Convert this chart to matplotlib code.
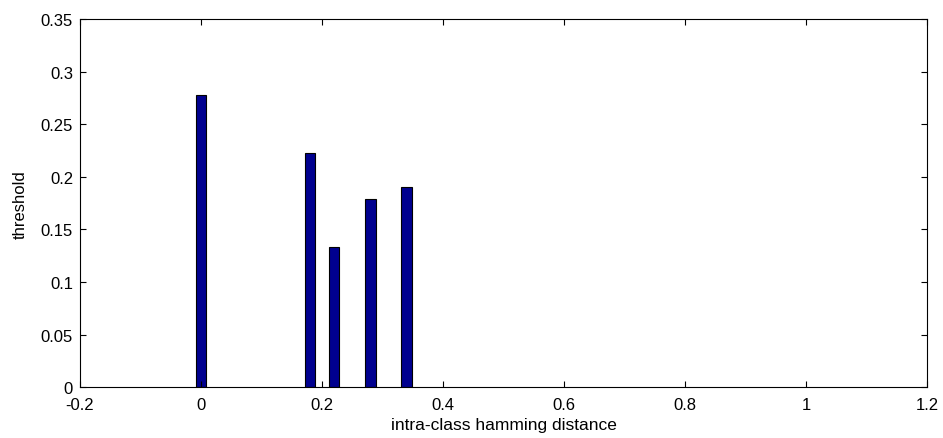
import matplotlib
matplotlib.use("Agg")
import matplotlib.pyplot as plt

# 数据
dist = [0.0, 0.18, 0.22, 0.28, 0.34]
thresh = [0.278, 0.223, 0.133, 0.179, 0.190]
bar_w = 0.0176

plt.rcParams['font.family'] = ['Liberation Sans', 'DejaVu Sans']
plt.rcParams['font.size'] = 12

fig = plt.figure(figsize=(9.43, 4.39), dpi=100)
ax = fig.add_axes([0.0848, 0.116, 0.8983, 0.838])

ax.bar(dist, thresh, width=bar_w, color='#00008F', edgecolor='black', linewidth=0.8)

ax.set_xlim(-0.2, 1.2)
ax.set_ylim(0, 0.35)
ax.set_xticks([-0.2, 0, 0.2, 0.4, 0.6, 0.8, 1, 1.2])
ax.set_xticklabels(['-0.2', '0', '0.2', '0.4', '0.6', '0.8', '1', '1.2'])
ax.set_yticks([0, 0.05, 0.1, 0.15, 0.2, 0.25, 0.3, 0.35])
ax.set_yticklabels(['0', '0.05', '0.1', '0.15', '0.2', '0.25', '0.3', '0.35'])
ax.tick_params(direction='in', top=True, right=True, length=4, width=0.8)
ax.tick_params(axis='y', pad=5)
ax.tick_params(axis='x', pad=7)
for s in ax.spines.values():
    s.set_linewidth(0.8)

ax.set_xlabel('intra-class hamming distance', labelpad=4, fontsize=12.5)
ax.set_ylabel('threshold', labelpad=9)

fig.savefig('out.png', dpi=100)
